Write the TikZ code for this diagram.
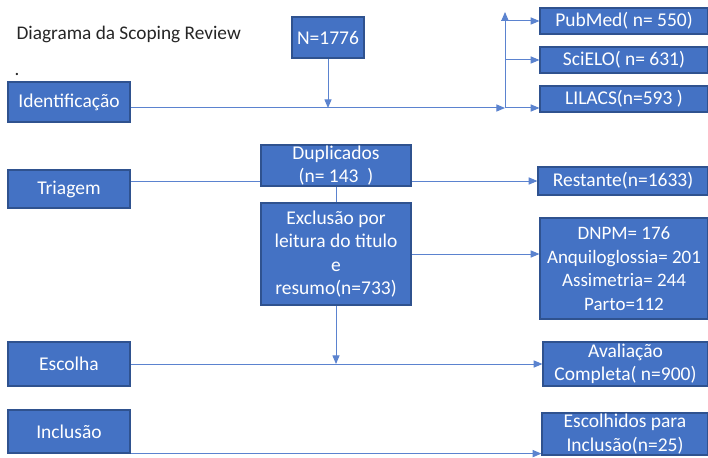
\documentclass[tikz,border=0pt]{standalone}
\usepackage{fontspec}
\setmainfont{Carlito}
\usetikzlibrary{positioning,arrows,backgrounds}
\definecolor{boxblue}{HTML}{4472C4}
\definecolor{boxedge}{HTML}{2F528F}
\definecolor{linkblue}{HTML}{5B83CF}
\definecolor{titlegray}{HTML}{262626}
\tikzset{
  stage/.style={draw=boxedge, fill=boxblue, line width=1.2pt, text=white,
    align=center, inner sep=0pt, font=\fontsize{19.5}{23.5}\selectfont},
  link/.style={draw=linkblue, line width=1pt},
  arrowlink/.style={link, -triangle 45}
}
\begin{document}
\begin{tikzpicture}[x=1pt, y=-1pt]
    \useasboundingbox (0,0) rectangle (708,457);
    \node[anchor=west, text=titlegray, font=\fontsize{19.3}{22}\selectfont] (title) at (13,34) {Diagrama da Scoping Review};
    \node[text=titlegray, inner sep=0pt, font=\fontsize{19}{22}\selectfont] (dot) at (17,74) {.};

    % stages on the left
    \node[stage, minimum width=122, minimum height=40] (ident) at (69,102) {Identificação};
    \node[stage, minimum width=122, minimum height=38] (triagem) at (69,189) {Triagem};
    \node[stage, minimum width=122, minimum height=44] (escolha) at (69,364) {Escolha};
    \node[stage, minimum width=122, minimum height=43] (inclusao) at (69,431.5) {Inclusão};

    % middle column
    \node[stage, minimum width=72, minimum height=41] (n1776) at (328,37.5) {N=1776};
    \node[stage, minimum width=150, minimum height=41] (dup) at (336,165.5) {Duplicados\\(n=~143~~)};
    \node[stage, minimum width=150, minimum height=102] (exclusao) at (336,254) {Exclusão por\\leitura do titulo\\e\\resumo(n=733)};

    % results on the right
    \node[stage, minimum width=168, minimum height=26] (pubmed) at (624,21) {PubMed( n= 550)};
    \node[stage, minimum width=168, minimum height=26] (scielo) at (624,60) {SciELO( n= 631)};
    \node[stage, minimum width=168, minimum height=26] (lilacs) at (624,99) {LILACS(n=593 )};
    \node[stage, minimum width=170, minimum height=28] (restante) at (623,181) {Restante(n=1633)};
    \node[stage, minimum width=168, minimum height=101, font=\fontsize{19}{23.5}\selectfont] (dnpm) at (624,268.5) {DNPM= 176\\Anquiloglossia= 201\\Assimetria= 244\\Parto=112};
    \node[stage, minimum width=165, minimum height=44] (avaliacao) at (625.5,364) {Avaliação\\Completa( n=900)};
    \node[stage, minimum width=166, minimum height=42] (escolhidos) at (625,434) {Escolhidos para\\Inclusão(n=25)};

    \begin{scope}[on background layer]
    \coordinate (hub) at (505,108);
    \coordinate (hubtop) at (505,12);
    \draw[arrowlink] (ident.east |- hub) -- (hub);
    \draw[arrowlink] (n1776.south) -- (n1776.south |- hub);
    \draw[arrowlink] (hub) -- (hubtop);
    \draw[arrowlink] ([xshift=-4pt]hub |- pubmed.west) -- (pubmed.west);
    \draw[arrowlink] (hub |- scielo.west) -- (scielo.west);
    \draw[arrowlink] (hub) -- (lilacs.west |- hub);

    \draw[arrowlink] (triagem.east |- restante.west) -- (restante.west);
    \draw[link] (dup.south) -- (exclusao.north);
    \draw[arrowlink] (exclusao.east) -- (exclusao.east -| dnpm.west);
    \draw[arrowlink] (exclusao.south) -- (exclusao.south |- escolha.east);
    \draw[arrowlink] (escolha.east) -- (escolha.east -| avaliacao.west);
    \draw[arrowlink] (inclusao.south east) -- (inclusao.south east -| escolhidos.west);
    \end{scope}
\end{tikzpicture}
\end{document}
